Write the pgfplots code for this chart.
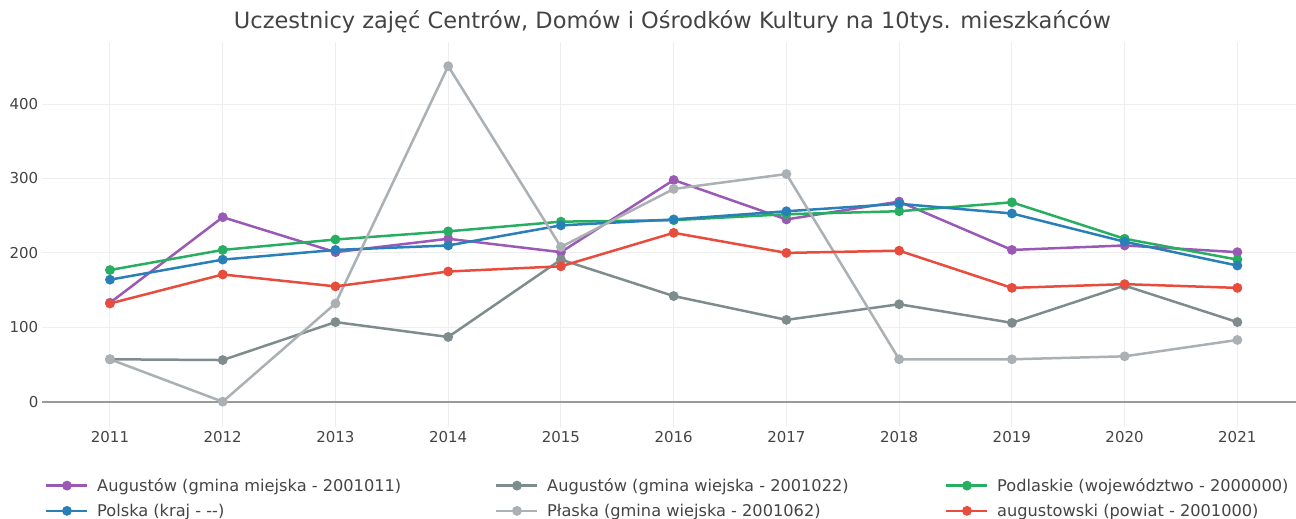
\documentclass[border=0pt]{standalone}
\usepackage{fontspec}
\setmainfont{DejaVu Sans}
\usepackage{pgfplots}
\pgfplotsset{compat=1.18}
\definecolor{cPurple}{HTML}{9B59B6}
\definecolor{cDGray}{HTML}{7F8C8D}
\definecolor{cGreen}{HTML}{27AE60}
\definecolor{cBlue}{HTML}{2980B9}
\definecolor{cLGray}{HTML}{AAB0B3}
\definecolor{cRed}{HTML}{E74C3C}
\definecolor{cText}{HTML}{444444}
\definecolor{cGrid}{HTML}{EEEEEE}
\definecolor{cZero}{HTML}{999999}
\newcommand{\lt}[1]{\makebox[398pt][l]{\rule[-4.5pt]{0pt}{17pt}#1}}
\begin{document}
\begin{tikzpicture}
\useasboundingbox (-42pt,-92pt) rectangle (1254pt,427pt);
\begin{axis}[
  at={(0,0)}, anchor=south west,
  scale only axis, width=1254pt, height=385.3pt,
  xmin=2010.397, xmax=2021.52,
  ymin=-34, ymax=483.9,
  axis line style={draw=none},
  major tick length=0pt,
  xtick={2011,...,2021},
  ytick={100,200,300,400},
  extra y ticks={0},
  extra y tick style={grid style={color=cZero, line width=2pt}},
  grid=major,
  grid style={color=cGrid, line width=1pt},
  /pgf/number format/assume math mode=true,
  xticklabel={\pgfmathprintnumber[1000 sep={}]{\tick}},
  tick label style={font=\fontsize{15}{18}\selectfont, color=cText},
  xticklabel style={inner sep=4pt},
  yticklabel style={inner xsep=3.5pt},
  title={Uczestnicy zajęć Centrów, Domów i Ośrodków Kultury na 10tys. mieszkańców},
  title style={font=\fontsize{22.5}{26}\selectfont, color=cText, at={(axis description cs:0.5028,1)}, anchor=base, yshift=6.7pt},
  every axis plot/.append style={line width=2.5pt, mark=*, mark size=3.6pt, mark options={solid}},
  legend image code/.code={\draw[#1, mark repeat=2, mark phase=2] plot coordinates {(0pt,0pt) (20.5pt,0pt) (41pt,0pt)};},
  legend columns=3,
  legend cell align=left,
  legend style={at={(axis description cs:0,0)}, anchor=north west, xshift=3pt, yshift=-51.2pt,
    draw=none, fill=none, inner sep=0pt, row sep=11pt,
    nodes={inner sep=0pt, font=\fontsize{16.2}{19}\selectfont, text=cText},
    /tikz/every odd column/.append style={column sep=8.5pt}},
]
\addplot[color=cPurple] coordinates {(2011,133) (2012,248) (2013,201) (2014,219) (2015,201) (2016,298) (2017,245) (2018,269) (2019,204) (2020,210) (2021,201)};
\addlegendentry{\lt{Augustów (gmina miejska - 2001011)}}
\addplot[color=cDGray] coordinates {(2011,57) (2012,56) (2013,107) (2014,87) (2015,191) (2016,142) (2017,110) (2018,131) (2019,106) (2020,156) (2021,107)};
\addlegendentry{\lt{Augustów (gmina wiejska - 2001022)}}
\addplot[color=cGreen] coordinates {(2011,177) (2012,204) (2013,218) (2014,229) (2015,242) (2016,244) (2017,252) (2018,256) (2019,268) (2020,219) (2021,191)};
\addlegendentry{\lt{Podlaskie (województwo - 2000000)}}
\addplot[color=cBlue] coordinates {(2011,164) (2012,191) (2013,204) (2014,210) (2015,237) (2016,245) (2017,256) (2018,266) (2019,253) (2020,215) (2021,183)};
\addlegendentry{\lt{Polska (kraj - {-}{-})}}
\addplot[color=cLGray] coordinates {(2011,57) (2012,0) (2013,132) (2014,451) (2015,208) (2016,286) (2017,306) (2018,57) (2019,57) (2020,61) (2021,83)};
\addlegendentry{\lt{Płaska (gmina wiejska - 2001062)}}
\addplot[color=cRed] coordinates {(2011,132) (2012,171) (2013,155) (2014,175) (2015,182) (2016,227) (2017,200) (2018,203) (2019,153) (2020,158) (2021,153)};
\addlegendentry{\lt{augustowski (powiat - 2001000)}}
\end{axis}
\end{tikzpicture}
\end{document}
